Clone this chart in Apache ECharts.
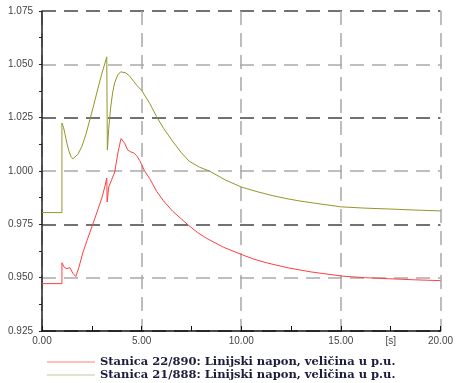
<!DOCTYPE html>
<html>
<head>
<meta charset="utf-8">
<script src="https://cdn.jsdelivr.net/npm/echarts@6/dist/echarts.min.js"></script>
<style>
html,body{margin:0;padding:0;background:#fff;}
#c{width:456px;height:383px;}
</style>
</head>
<body>
<div id="c"></div>
<script>
var seriesNames = [
  'Stanica 22/890: Linijski napon, veličina u p.u.',
  'Stanica 21/888: Linijski napon, veličina u p.u.'
];
var yTicks = [0.925, 0.950, 0.975, 1.000, 1.025, 1.050, 1.075];
var xTicks = [0, 5, 10, 15, 20];
var xUnitLabel = '[s]';

var redTime = [0, 1.0, 1.0, 1.12, 1.25, 1.4, 1.55, 1.7, 1.85, 2.05, 2.3, 2.55, 2.8, 3.0, 3.15, 3.25, 3.27, 3.35, 3.5, 3.65, 3.8, 3.9, 3.97, 4.05, 4.15, 4.3, 4.45, 4.6, 4.75, 4.9, 5.15, 5.4, 5.75, 6.1, 6.55, 7.0, 7.3, 7.8, 8.25, 9.1, 10.05, 10.6, 11.25, 12.4, 13.5, 15.1, 16.2, 17.4, 18.7, 20.0];
var redValue = [0.9472, 0.9472, 0.9570, 0.9548, 0.9542, 0.9547, 0.9520, 0.9505, 0.9548, 0.9617, 0.9685, 0.9750, 0.9818, 0.9872, 0.9925, 0.9967, 0.9855, 0.9925, 0.9960, 0.9995, 1.0080, 1.0125, 1.0152, 1.0155, 1.0130, 1.0098, 1.0090, 1.0085, 1.0072, 1.0050, 1.0000, 0.9965, 0.9905, 0.9860, 0.9812, 0.9775, 0.9750, 0.9712, 0.9685, 0.9643, 0.9607, 0.9588, 0.9570, 0.9545, 0.9527, 0.9507, 0.9500, 0.9495, 0.9490, 0.9486];

var oliveTime = [0, 1.0, 1.0, 1.08, 1.15, 1.25, 1.35, 1.45, 1.55, 1.65, 1.8, 2.0, 2.2, 2.4, 2.6, 2.8, 3.0, 3.25, 3.28, 3.35, 3.45, 3.55, 3.65, 3.8, 3.95, 4.05, 4.2, 4.4, 4.6, 4.75, 5.0, 5.4, 5.75, 6.1, 6.55, 7.0, 7.4, 7.9, 8.4, 9.2, 10.0, 10.8, 11.55, 12.3, 12.9, 14.0, 15.0, 16.2, 17.4, 18.7, 20.0];
var oliveValue = [0.9805, 0.9805, 1.0225, 1.0205, 1.0175, 1.0130, 1.0095, 1.0068, 1.0057, 1.0060, 1.0078, 1.0115, 1.0170, 1.0240, 1.0310, 1.0385, 1.0455, 1.0535, 1.0098, 1.0200, 1.0300, 1.0370, 1.0415, 1.0450, 1.0465, 1.0467, 1.0460, 1.0445, 1.0420, 1.0402, 1.0378, 1.0318, 1.0255, 1.0200, 1.0140, 1.0085, 1.0045, 1.0018, 1.0000, 0.9958, 0.9925, 0.9903, 0.9885, 0.9870, 0.9860, 0.9845, 0.9832, 0.9826, 0.9822, 0.9817, 0.9813];

function pairs(t, v) { return t.map(function (x, i) { return [x, v[i]]; }); }

var chart = echarts.init(document.getElementById('c'), null, {renderer: 'canvas'});
var labelFont = '"Liberation Sans Narrow", "Liberation Sans", Arial, sans-serif';
var legendText = {fontFamily: '"DejaVu Serif", "Liberation Serif", serif', fontWeight: 'bold', fontSize: 11.5, color: '#1c1c3c'};
function legendFor(name, top) {
  return {
    show: true, orient: 'vertical', left: 42, top: top,
    itemWidth: 48, itemHeight: 11,
    icon: 'path://M0,5 L48,5 L48,6 L0,6 Z',
    textStyle: legendText, data: [name], selectedMode: false
  };
}
chart.setOption({
  animation: false,
  backgroundColor: '#ffffff',
  grid: {left: 42, right: 13, top: 11, bottom: 52, containLabel: false},
  xAxis: {
    type: 'value',
    min: xTicks[0],
    max: xTicks[xTicks.length - 1],
    interval: 2.5,
    axisLine: {show: true, onZero: false, lineStyle: {color: '#111', width: 1.5}},
    axisTick: {show: true, inside: true, length: 5, lineStyle: {color: '#111', width: 1}},
    axisLabel: {
      color: '#444', fontFamily: labelFont, fontSize: 10, margin: 5,
      formatter: function (v) {
        if (xTicks.indexOf(v) >= 0) return v.toFixed(2);
        if (Math.abs(v - 17.5) < 1e-6) return xUnitLabel;
        return '';
      }
    },
    splitLine: {show: true, lineStyle: {color: ['#a8a8a8', 'rgba(0,0,0,0)'], width: 1.5, type: [14, 8]}}
  },
  yAxis: {
    type: 'value',
    min: yTicks[0],
    max: yTicks[yTicks.length - 1],
    interval: 0.025,
    axisLine: {show: true, lineStyle: {color: '#222', width: 1.5}},
    axisTick: {show: true, inside: false, length: 3, lineStyle: {color: '#222'}},
    minorTick: {show: true, splitNumber: 2, length: 3, lineStyle: {color: '#222'}},
    axisLabel: {
      color: '#444', fontFamily: labelFont, fontSize: 10, margin: 9,
      formatter: function (v) { return v.toFixed(3); }
    },
    splitLine: {show: true, lineStyle: {color: ['#444444', '#aaaaaa'], width: 1.5, type: [14, 8]}}
  },
  legend: [legendFor(seriesNames[0], 351), legendFor(seriesNames[1], 364)],
  series: [
    {
      name: seriesNames[0], type: 'line', showSymbol: false, symbol: 'none',
      data: pairs(redTime, redValue),
      lineStyle: {color: '#ff4040', width: 1}, itemStyle: {color: '#ff8080'}
    },
    {
      name: seriesNames[1], type: 'line', showSymbol: false, symbol: 'none',
      data: pairs(oliveTime, oliveValue),
      lineStyle: {color: '#95952a', width: 1}, itemStyle: {color: '#c8c89a'}
    }
  ]
});
</script>
</body>
</html>
